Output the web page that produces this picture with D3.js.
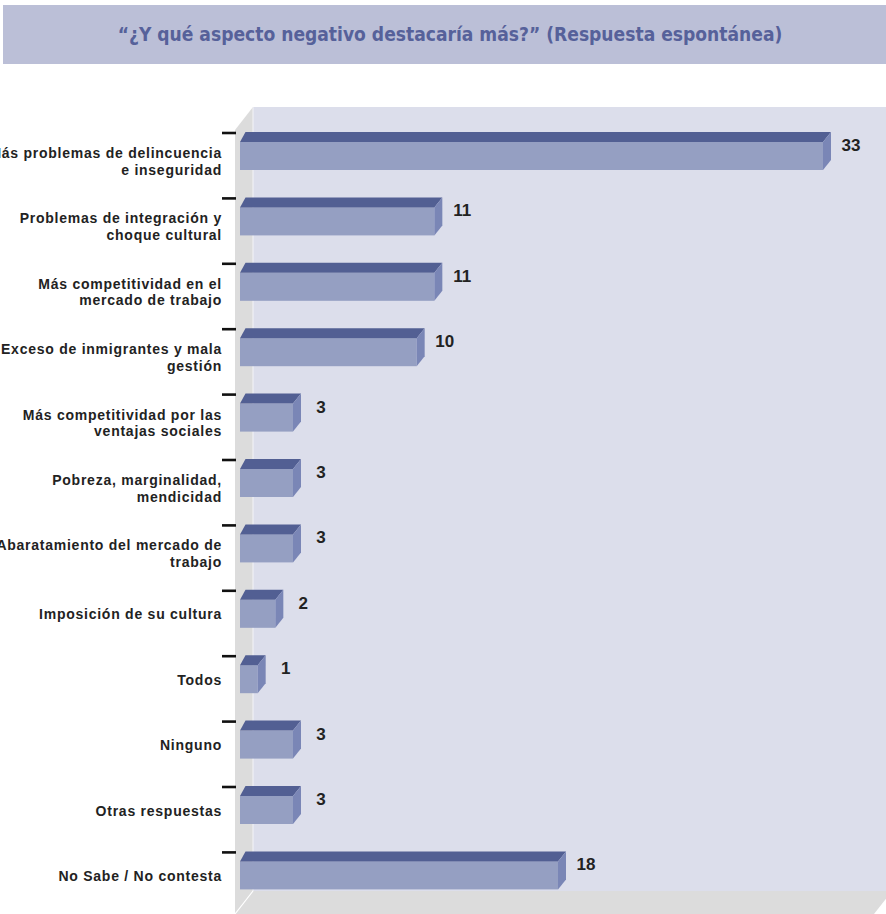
<!DOCTYPE html>
<html>
<head>
<meta charset="utf-8">
<script src="https://cdn.jsdelivr.net/npm/d3@7/dist/d3.min.js"></script>
<style>
  html, body { margin: 0; padding: 0; background: #ffffff; }
  svg { display: block; }
</style>
</head>
<body>
<script>
// ---- DATA ----
const title = "“¿Y qué aspecto negativo destacaría más?” (Respuesta espontánea)";
const categories = [
  "Más problemas de delincuencia e inseguridad",
  "Problemas de integración y choque cultural",
  "Más competitividad en el mercado de trabajo",
  "Exceso de inmigrantes y mala gestión",
  "Más competitividad por las ventajas sociales",
  "Pobreza, marginalidad, mendicidad",
  "Abaratamiento del mercado de trabajo",
  "Imposición de su cultura",
  "Todos",
  "Ninguno",
  "Otras respuestas",
  "No Sabe / No contesta"
];
const categoryLines = [
  ["Más problemas de delincuencia", "e inseguridad"],
  ["Problemas de integración y", "choque cultural"],
  ["Más competitividad en el", "mercado de trabajo"],
  ["Exceso de inmigrantes y mala", "gestión"],
  ["Más competitividad por las", "ventajas sociales"],
  ["Pobreza, marginalidad,", "mendicidad"],
  ["Abaratamiento del mercado de", "trabajo"],
  ["Imposición de su cultura"],
  ["Todos"],
  ["Ninguno"],
  ["Otras respuestas"],
  ["No Sabe / No contesta"]
];
const values = [33, 11, 11, 10, 3, 3, 3, 2, 1, 3, 3, 18];

// ---- LAYOUT ----
const W = 886, H = 914;
const svg = d3.select("body").append("svg").attr("width", W).attr("height", H);

const col = {
  band: "#bbbfd7", titleText: "#56619a",
  wall: "#dcdeeb", side: "#dcdcdc",
  front: "#959fc2", top: "#525f93", right: "#7a86b6",
  text: "#222222"
};

// Title band
svg.append("rect").attr("x", 3).attr("y", 5).attr("width", W - 3).attr("height", 59).attr("fill", col.band);
const tt = svg.append("text")
  .attr("x", 450).attr("y", 41)
  .attr("text-anchor", "middle")
  .attr("font-family", "'DejaVu Sans Condensed', 'DejaVu Sans', sans-serif")
  .attr("font-weight", "bold")
  .attr("font-size", 20)
  .attr("fill", col.titleText)
  .text(title);
const tl = tt.node().getComputedTextLength();
tt.attr("font-size", 20 * 665 / tl);

// Scales
const x0 = 240;
const x = d3.scaleLinear().domain([0, 33]).range([x0, 823]);
const y = d3.scaleBand().domain(categories).range([133, 133 + 12 * 65.4]).paddingInner(0).paddingOuter(0);

// 3D frame
const wallL = 253, wallT = 107, wallB = 891, wallR = 892;
const depX = 18, depY = 23;
svg.append("rect").attr("x", wallL).attr("y", wallT).attr("width", wallR - wallL).attr("height", wallB - wallT).attr("fill", col.wall);
svg.append("polygon")
  .attr("points", [[wallL - depX, wallT + depY], [wallL, wallT], [wallL, wallB], [wallL - depX, wallB + depY]].map(p => p.join(",")).join(" "))
  .attr("fill", col.side);
svg.append("polygon")
  .attr("points", [[wallL, wallB], [wallR, wallB], [wallR - depX, wallB + depY], [wallL - depX, wallB + depY]].map(p => p.join(",")).join(" "))
  .attr("fill", col.side);
svg.append("line").attr("x1", wallL).attr("y1", wallT).attr("x2", wallL).attr("y2", wallB)
  .attr("stroke", "#f4f4f8").attr("stroke-width", 1);
svg.append("line").attr("x1", wallL).attr("y1", wallB).attr("x2", wallL - depX).attr("y2", wallB + depY)
  .attr("stroke", "#ffffff").attr("stroke-width", 1.2);

// Ticks
svg.append("g").selectAll("line").data(categories).join("line")
  .attr("x1", 222).attr("x2", 236)
  .attr("y1", d => y(d)).attr("y2", d => y(d))
  .attr("stroke", "#111").attr("stroke-width", 2.6);

// Bars
const dxL = 5.5, dxR = 8, dy = 10, fTop = 9, fH = 28;
const bars = svg.append("g").selectAll("g").data(categories).join("g");
bars.append("rect")
  .attr("x", x0).attr("y", d => y(d) + fTop)
  .attr("width", (d, i) => x(values[i]) - x0).attr("height", fH)
  .attr("fill", col.front);
bars.append("polygon")
  .attr("points", (d, i) => {
    const t = y(d) + fTop, xr = x(values[i]);
    return [[x0, t], [x0 + dxL, t - dy], [xr + dxR, t - dy], [xr, t]].map(p => p.join(",")).join(" ");
  })
  .attr("fill", col.top);
bars.append("polygon")
  .attr("points", (d, i) => {
    const t = y(d) + fTop, xr = x(values[i]);
    return [[xr, t], [xr + dxR, t - dy], [xr + dxR, t - dy + fH], [xr, t + fH]].map(p => p.join(",")).join(" ");
  })
  .attr("fill", col.right);

// Value labels
svg.append("g").selectAll("text").data(categories).join("text")
  .attr("x", (d, i) => x(values[i]) + 28)
  .attr("y", d => y(d) + 18)
  .attr("text-anchor", "middle")
  .attr("font-family", "'Liberation Sans', Arial, sans-serif")
  .attr("font-weight", "bold")
  .attr("font-size", 17)
  .attr("fill", col.text)
  .text((d, i) => values[i]);

// Category labels
const lab = svg.append("g").selectAll("text").data(categories).join("text")
  .attr("text-anchor", "end")
  .attr("font-family", "'Liberation Sans', Arial, sans-serif")
  .attr("font-weight", "bold")
  .attr("font-size", 14)
  .attr("letter-spacing", 0.75)
  .attr("fill", col.text);
lab.each(function (d, i) {
  const lines = categoryLines[i];
  const t = y(d);
  const sel = d3.select(this);
  if (lines.length === 1) {
    sel.append("tspan").attr("x", 222).attr("y", t + 28.5).text(lines[0]);
  } else {
    lines.forEach((ln, k) => sel.append("tspan").attr("x", 222).attr("y", t + 25 + k * 16.5).text(ln));
  }
});
</script>
</body>
</html>
